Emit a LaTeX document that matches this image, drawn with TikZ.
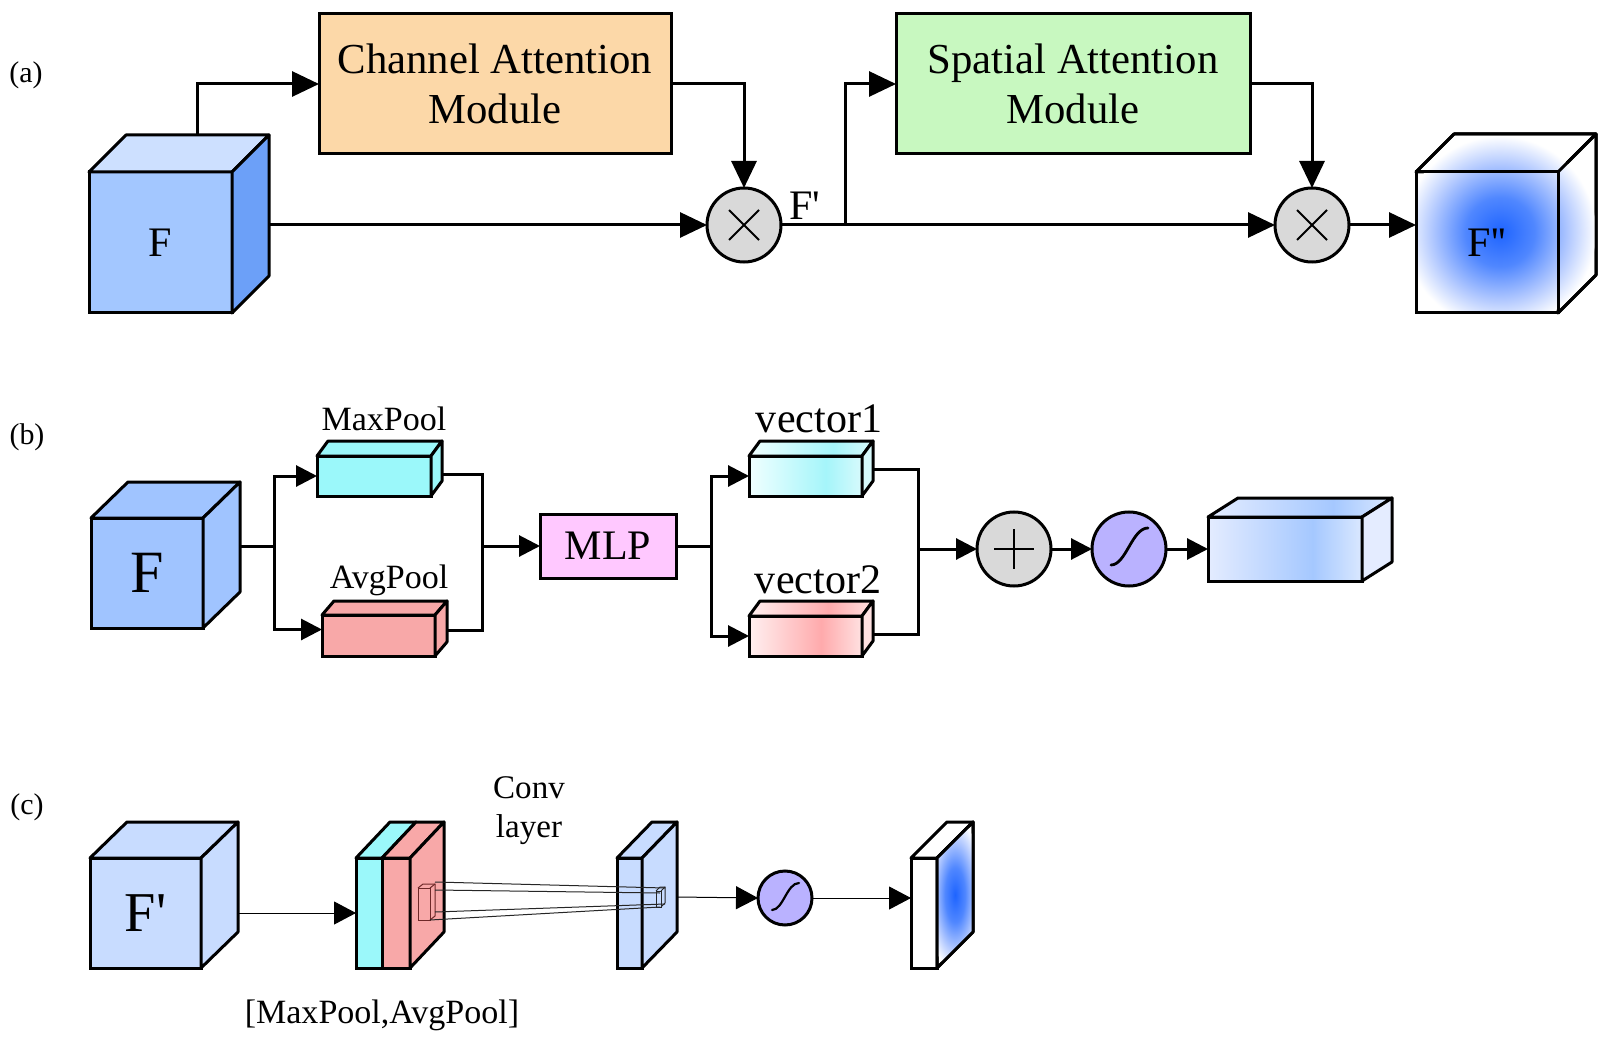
\documentclass[tikz,border=0pt]{standalone}
\usepackage{fontspec}
\setmainfont{Liberation Serif}[Ligatures=TeXOff]
\usetikzlibrary{arrows.meta,calc,fit}

\definecolor{peach}{RGB}{252,216,168}
\definecolor{lgreen}{RGB}{200,248,192}
\definecolor{cgray}{RGB}{217,217,217}
\definecolor{lav}{RGB}{186,178,255}
\definecolor{bfront}{RGB}{163,199,255}
\definecolor{btop}{RGB}{205,224,255}
\definecolor{bside}{RGB}{108,160,248}
\definecolor{bmid}{RGB}{160,196,255}
\definecolor{blight}{RGB}{200,220,255}
\definecolor{mcyan}{RGB}{155,248,250}
\definecolor{msalmon}{RGB}{248,168,168}
\definecolor{mpink}{RGB}{255,200,255}
\definecolor{gblue}{RGB}{30,100,255}
\definecolor{gbluea}{RGB}{80,135,255}
\definecolor{gblueb}{RGB}{180,202,255}
\definecolor{obl}{RGB}{228,236,255}
\definecolor{obm}{RGB}{165,200,255}
\definecolor{obr}{RGB}{218,232,255}
\definecolor{v1a}{RGB}{240,255,255}
\definecolor{v1m}{RGB}{165,245,250}
\definecolor{v1r}{RGB}{215,250,252}
\definecolor{v2a}{RGB}{255,240,240}
\definecolor{v2m}{RGB}{255,170,172}
\definecolor{v2r}{RGB}{255,225,225}
\definecolor{kred}{RGB}{110,40,40}

\pgfdeclarehorizontalshading{obsh}{100bp}{color(0bp)=(obl); color(25bp)=(obl); color(59bp)=(obm); color(75bp)=(obr); color(100bp)=(obr)}
\pgfdeclarehorizontalshading{vone}{100bp}{color(0bp)=(v1a); color(25bp)=(v1a); color(59bp)=(v1m); color(75bp)=(v1r); color(100bp)=(v1r)}
\pgfdeclarehorizontalshading{vtwo}{100bp}{color(0bp)=(v2a); color(25bp)=(v2a); color(57bp)=(v2m); color(75bp)=(v2r); color(100bp)=(v2r)}
\pgfdeclareradialshading{blob}{\pgfpoint{0bp}{0bp}}{color(0bp)=(gblue); color(9bp)=(gbluea); color(18bp)=(gblueb); color(25bp)=(white); color(50bp)=(white)}

\newcommand\fmod{\fontsize{30.4pt}{35.6pt}\selectfont}
\newcommand\fF{\fontsize{29.9pt}{34pt}\selectfont}
\newcommand\fFb{\fontsize{42.7pt}{48pt}\selectfont}
\newcommand\fFc{\fontsize{40pt}{46pt}\selectfont}
\newcommand\fpool{\fontsize{24.2pt}{28pt}\selectfont}
\newcommand\fvec{\fontsize{29.9pt}{34pt}\selectfont}
\newcommand\flab{\fontsize{21.3pt}{25pt}\selectfont}
\newcommand\fconv{\fontsize{23.5pt}{27pt}\selectfont}

\tikzset{
  box/.style={draw, line width=0.75mm, inner sep=0pt, outer sep=0pt},
  circ/.style={circle, draw, line width=0.75mm, inner sep=0pt, outer sep=0pt},
  conn/.style={line width=0.75mm},
  arrA/.style={line width=0.75mm, -{Triangle[length=6.75mm,width=6.25mm]}},
  arrB/.style={line width=0.75mm, -{Triangle[length=5.25mm,width=5.25mm]}},
  arrC/.style={line width=0.25mm, -{Triangle[length=5.5mm,width=5.75mm]}},
  face/.style={line width=0.75mm, line join=round},
  kern/.style={line width=0.25mm, draw=kred},
  cone/.style={line width=0.25mm, draw=black!85},
}

% name, p1, p2, offset, front, top, side, font, text
\newcommand\cuboid[9]{%
  \node[box, fill=#5, fit={#2 #3}] (#1) {};
  \draw[face, fill=#6] (#1.north west) -- ++(#4) -- ($(#1.north east)+(#4)$) -- (#1.north east) -- cycle;
  \draw[face, fill=#7] (#1.north east) -- ++(#4) -- ($(#1.south east)+(#4)$) -- (#1.south east) -- cycle;
  \node[font=#8, inner sep=0pt] (#1t) at (#1.center) {#9};
}
% name, p1, p2, offset, shading, side colour
\newcommand\scuboid[6]{%
  \node[box, shade, shading=#5, fit={#2 #3}] (#1) {};
  \shadedraw[face, shading=#5] (#1.north west) -- ++(#4) -- ($(#1.north east)+(#4)$) -- (#1.north east) -- cycle;
  \draw[face, fill=#6] (#1.north east) -- ++(#4) -- ($(#1.south east)+(#4)$) -- (#1.south east) -- cycle;
}

\begin{document}
\begin{tikzpicture}[x=0.25mm, y=-0.25mm]
\fill[white] (0,0) rectangle (1617,1046);
\useasboundingbox (0,0) rectangle (1617,1046);

%%%%%%%%%%%%%%%% (a)
\node[font=\flab] (la) at (26,75) {(a)};
\cuboid{Fa}{(89,172)}{(232,313)}{37,-37}{bfront}{btop}{bside}{\fF}{F}
\node[box, fill=peach, fit={(319,14) (671,154)}] (ca) {};
\node[align=center, font=\fmod] (cat) at (ca.center) {Channel Attention\\Module};
\node[box, fill=lgreen, fit={(896,14) (1250,154)}] (sa) {};
\node[align=center, font=\fmod] (sat) at (sa.center) {Spatial Attention\\Module};
\node[circ, fill=cgray, minimum size=18.5mm] (c1) at (744,225) {};
\node[circ, fill=cgray, minimum size=18.5mm] (c2) at (1312,225) {};
\draw[line width=0.5mm] ($(c1)+(-15,-15)$) -- ($(c1)+(15,15)$) ($(c1)+(-15,15)$) -- ($(c1)+(15,-15)$);
\draw[line width=0.5mm] ($(c2)+(-15,-15)$) -- ($(c2)+(15,15)$) ($(c2)+(-15,15)$) -- ($(c2)+(15,-15)$);
\node[font=\fF, anchor=base] (fp) at (805,220) {F'};

% F'' cube with blue glow
\cuboid{Fpp}{(1416,172)}{(1558,313)}{38,-38}{white}{white}{white}{}{}
\begin{scope}
  \clip (Fpp.south west) -- (Fpp.north west) -- ++(38,-38) -- ($(Fpp.north east)+(38,-38)$) -- ($(Fpp.south east)+(38,-38)$) -- (Fpp.south east) -- cycle;
  \shade[shading=blob] (1500,232) circle (24mm);
\end{scope}
\draw[face] (Fpp.south west) rectangle (Fpp.north east);
\draw[face] (Fpp.north west) -- ++(38,-38) -- ($(Fpp.north east)+(38,-38)$) -- ($(Fpp.south east)+(38,-38)$) -- (Fpp.south east);
\draw[face] (Fpp.north east) -- ++(38,-38);
\node[font=\fF] (Fppl) at (Fpp.center) {F''};

\coordinate (Fat) at (197,135);
\coordinate (Far) at (268,225);
\coordinate (br1) at (845,225);
\draw[arrA] (Fat) |- (ca.west);
\draw[arrA] (ca.east) -| (c1.north);
\draw[arrA] (Far) -- (c1.west);
\draw[arrA] (c1.east) -- (c2.west);
\draw[arrA] (br1) |- (sa.west);
\draw[arrA] (sa.east) -| (c2.north);
\draw[arrA] (c2.east) -- (c2.east -| Fpp.west);

%%%%%%%%%%%%%%%% (b)
\node[font=\flab] (lb) at (27,437) {(b)};
\cuboid{Fb}{(91,518)}{(203,628)}{37,-36}{bmid}{bmid}{bmid}{\fFb}{F}
\cuboid{mp}{(317,456)}{(431,496)}{11,-15}{mcyan}{mcyan}{mcyan}{}{}
\cuboid{ap}{(322,615)}{(435,656)}{12,-14}{msalmon}{msalmon}{msalmon}{}{}
\node[font=\fpool, anchor=base] (mpl) at (384,431) {MaxPool};
\node[font=\fpool, anchor=base] (apl) at (389,588) {AvgPool};
\node[box, fill=mpink, fit={(540,514) (676,578)}] (mlp) {};
\node[font=\fF] (mlpt) at (mlp.center) {MLP};
\scuboid{v1}{(749,456)}{(862,496)}{11,-15}{vone}{v1r}
\scuboid{v2}{(749,616)}{(862,656)}{11,-15}{vtwo}{v2r}
\node[font=\fvec, anchor=base] (v1l) at (819,432) {vector1};
\node[font=\fvec, anchor=base] (v2l) at (818,593) {vector2};
\node[circ, fill=cgray, minimum size=18.5mm] (plus) at (1014,549) {};
\draw[line width=0.6mm] ($(plus)+(-20,0)$) -- ($(plus)+(20,0)$) ($(plus)+(0,-20)$) -- ($(plus)+(0,20)$);
\node[circ, fill=lav, minimum size=18.5mm] (sig) at (1129,549) {};
\draw[line width=0.7mm, line cap=round] ($(sig)+(-18,16)$) .. controls ($(sig)+(-3,16)$) and ($(sig)+(3,-21)$) .. ($(sig)+(19,-21)$);
\scuboid{ob}{(1208,517)}{(1362,581)}{30,-19}{obsh}{obl}

\coordinate (Fbr) at (240,546);
\coordinate (s1) at (274,546);
\coordinate (mpr) at (442,474);
\coordinate (apr) at (447,630);
\coordinate (j1) at (482,546);
\coordinate (s2) at (711,546);
\coordinate (v1r) at (873,469);
\coordinate (v2r) at (873,634);
\coordinate (j2) at (918,549);
\draw[conn] (Fbr) -- (s1);
\draw[arrB] (s1) |- (mp.west);
\draw[arrB] (s1) |- ($(ap.west)+(0,-6)$);
\draw[conn] (mpr) -| (j1) |- (apr);
\draw[arrB] (j1) -- (mlp.west);
\draw[conn] (mlp.east) -- (s2);
\draw[arrB] (s2) |- (v1.west);
\draw[arrB] (s2) |- (v2.west);
\draw[conn] (v1r) -| (j2) |- (v2r);
\draw[arrB] (j2) -- (plus.west);
\draw[arrB] (plus.east) -- (sig.west);
\draw[arrB] (sig.east) -- (ob.west);

%%%%%%%%%%%%%%%% (c)
\node[font=\flab] (lc) at (27,807) {(c)};
\cuboid{Fc}{(90,858)}{(201,968)}{37,-36}{blight}{blight}{blight}{\fFc}{F'}
% concatenated slab
\node[box, fill=mcyan, fit={(356,858) (382,968)}] (sc) {};
\node[box, fill=msalmon, fit={(382,858) (410,968)}] (sr) {};
\draw[face, fill=mcyan] (sc.north west) -- ++(34,-36) -- ($(sc.north east)+(34,-36)$) -- (sc.north east) -- cycle;
\draw[face, fill=msalmon] (sr.north west) -- ++(34,-36) -- ($(sr.north east)+(34,-36)$) -- (sr.north east) -- cycle;
\draw[face, fill=msalmon] (sr.north east) -- ++(34,-36) -- ($(sr.south east)+(34,-36)$) -- (sr.south east) -- cycle;
% kernel
\draw[kern] (418,888) rectangle (430,920);
\draw[kern] (418,888) -- (423,884) -- (435,884) -- (435,916) -- (430,920);
\draw[kern] (430,888) -- (435,884);
% middle slab
\cuboid{ms}{(617,858)}{(642,968)}{35,-36}{blight}{blight}{blight}{}{}
% cone
\draw[cone] (435,882) -- (665,888);
\draw[cone] (435,890) -- (660,893);
\draw[cone] (435,912) -- (665,904);
\draw[cone] (430,920) -- (660,907);
\draw[cone] (656,891) rectangle (661,907);
\draw[cone] (656,891) -- (660,887) -- (665,887) -- (665,903) -- (661,907);
\draw[cone] (661,891) -- (665,887);
% sigmoid
\node[circ, fill=lav, minimum size=13.5mm] (sg2) at (785,898) {};
\draw[line width=0.55mm, line cap=round] ($(sg2)+(-13,12)$) .. controls ($(sg2)+(-2,12)$) and ($(sg2)+(2,-15)$) .. ($(sg2)+(14,-15)$);
% last slab
\cuboid{ls}{(911,858)}{(937,968)}{36,-36}{white}{white}{white}{}{}
\begin{scope}
  \clip (ls.north east) -- ++(36,-36) -- ($(ls.south east)+(36,-36)$) -- (ls.south east) -- cycle;
  \shade[shading=blob] (955,895) ellipse [x radius=7mm, y radius=19mm];
\end{scope}
\draw[face] (ls.north east) -- ++(36,-36) -- ($(ls.south east)+(36,-36)$) -- (ls.south east) -- cycle;

\node[font=\fconv, anchor=base] (conv1) at (529,798) {Conv};
\node[font=\fconv, anchor=base] (conv2) at (529,837) {layer};
\node[font=\fpool, anchor=base] (cat2) at (382,1023) {[MaxPool,AvgPool]};

\coordinate (Fcr) at (238,913);
\coordinate (msr) at (677,897);
\draw[arrC] (Fcr) -- (Fcr -| sc.west);
\draw[arrC] (msr) -- (sg2.west);
\draw[arrC] (sg2.east) -- (sg2.east -| ls.west);
\end{tikzpicture}
\end{document}
